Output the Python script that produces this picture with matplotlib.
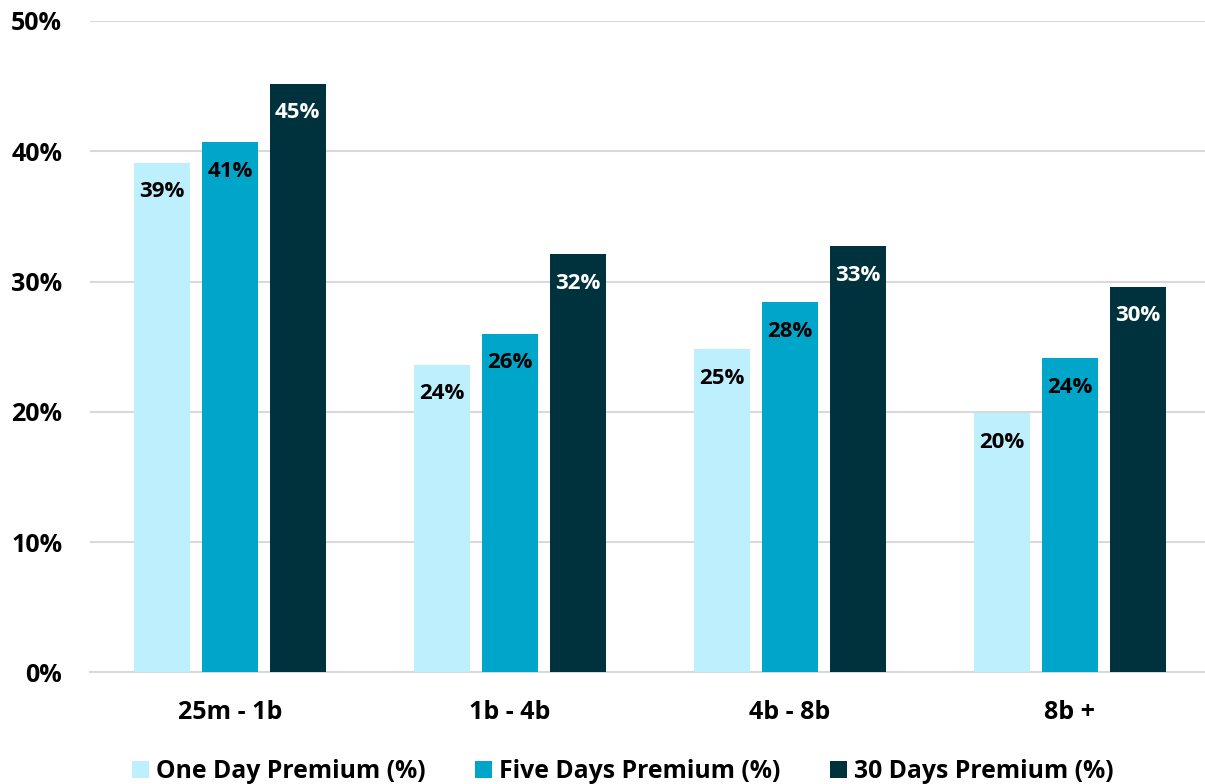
import numpy as np
import matplotlib.pyplot as plt

plt.rcParams['font.family'] = ['Open Sans', 'DejaVu Sans']
plt.rcParams['font.weight'] = 'bold'

# market cap buckets and premium series (%)
categories = ['25m - 1b', '1b - 4b', '4b - 8b', '8b +']
one_day = [39.1, 23.6, 24.8, 19.9]
five_days = [40.7, 26.0, 28.4, 24.1]
thirty_days = [45.2, 32.1, 32.7, 29.6]
series_names = ['One Day Premium (%)', 'Five Days Premium (%)', '30 Days Premium (%)']

colors = ['#BDF0FC', '#00A6CA', '#00323D']
label_colors = ['black', 'black', 'white']

fig = plt.figure(figsize=(12.05, 7.84), dpi=100)
ax = fig.add_axes([90/1205, 111.7/784, 1120/1205, 651.3/784])

x = np.arange(len(categories))
width = 0.199
offsets = [-0.242, 0.0, 0.242]
handles = []
for vals, off, c, lc, name in zip([one_day, five_days, thirty_days], offsets,
                                  colors, label_colors, series_names):
    b = ax.bar(x + off, vals, width, color=c, label=name, zorder=3)
    handles.append(b)
    for xi, v in zip(x, vals):
        ax.annotate(f'{v:.0f}%', (xi + off, v), xytext=(0, -29),
                    textcoords='offset pixels',
                    ha='center', va='center', fontsize=16, fontweight='bold',
                    color=lc, zorder=4)

ax.set_xlim(-0.5, 3.5)
ax.set_ylim(0, 50)
ax.set_yticks(np.arange(0, 51, 10))
ax.set_yticklabels([f'{t}%' for t in range(0, 51, 10)])
ax.set_xticks(x)
ax.set_xticklabels(categories)
ax.tick_params(axis='both', length=0, labelsize=18)
ax.tick_params(axis='y', pad=20)
ax.tick_params(axis='x', pad=20)
for lab in ax.get_xticklabels() + ax.get_yticklabels():
    lab.set_fontweight('bold')
ax.grid(axis='y', color='#D9D9D9', linewidth=1.5, zorder=0)
for s in ['top', 'right', 'left']:
    ax.spines[s].set_visible(False)
ax.spines['bottom'].set_color('#D9D9D9')
ax.spines['bottom'].set_linewidth(1.5)

fig.legend(handles=handles, labels=series_names, loc='center',
           bbox_to_anchor=(0.517, 12/784), ncol=3, frameon=False,
           prop={'size': 17.8, 'weight': 'bold'}, handlelength=0.68, handleheight=0.68,
           handletextpad=0.3, columnspacing=2.0)

fig.savefig('out.png', dpi=100)
